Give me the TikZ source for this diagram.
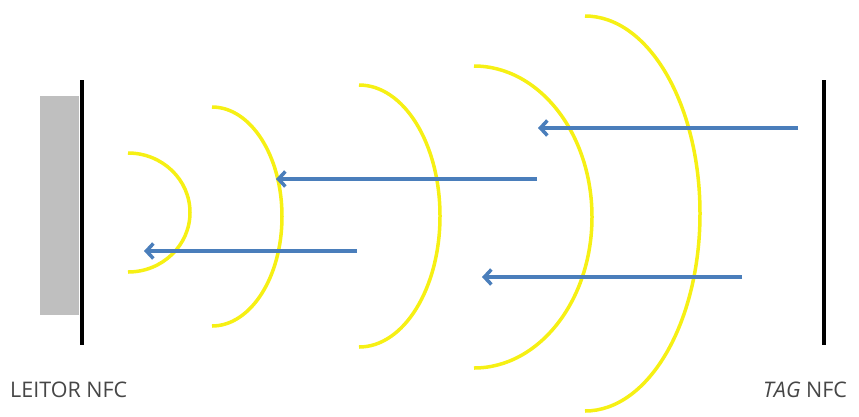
\documentclass[tikz,border=0pt]{standalone}
\usepackage{fontspec}
\setmainfont{Open Sans}
\usetikzlibrary{arrows.meta}

\definecolor{waveyellow}{RGB}{246,240,20}
\definecolor{signalblue}{RGB}{74,126,187}
\definecolor{readergray}{RGB}{191,191,191}
\definecolor{labelgray}{RGB}{70,70,70}

\begin{document}
\begin{tikzpicture}[x=1pt,y=-1pt,
  antenna/.style={line width=4.5pt,black},
  wave/.style={line width=3.5pt,waveyellow},
  signal/.style={line width=3.5pt,signalblue,-{Straight Barb[length=7pt,width=15pt]}},
  lbl/.style={font=\fontsize{21.5}{26}\selectfont,text=labelgray,inner sep=0pt,anchor=base west}]

\useasboundingbox (0,0) rectangle (859,416);

% leitor
\fill[readergray] (40,96) rectangle (79,315);
\draw[antenna] (82,80) -- (82,345);
% tag
\draw[antenna] (824,80) -- (824,345);

% ondas
\draw[wave] (128,153) arc[start angle=-90,end angle=90,x radius=62,y radius=59.5];
\draw[wave] (212,107) arc[start angle=-90,end angle=90,x radius=70,y radius=109.5];
\draw[wave] (359,85) arc[start angle=-90,end angle=90,x radius=81,y radius=131];
\draw[wave] (474,66) arc[start angle=-90,end angle=90,x radius=118,y radius=151];
\draw[wave] (585,16) arc[start angle=-90,end angle=90,x radius=115,y radius=197.5];

% sinais
\draw[signal] (798,128) -- (538,128);
\draw[signal] (537,179) -- (276,179);
\draw[signal] (357,251) -- (144,251);
\draw[signal] (742,277) -- (482,277);

\node[lbl] (leitor) at (10,397) {LEITOR NFC};
\node[lbl] (tag) at (763,397) {\textit{TAG} NFC};
\end{tikzpicture}
\end{document}
